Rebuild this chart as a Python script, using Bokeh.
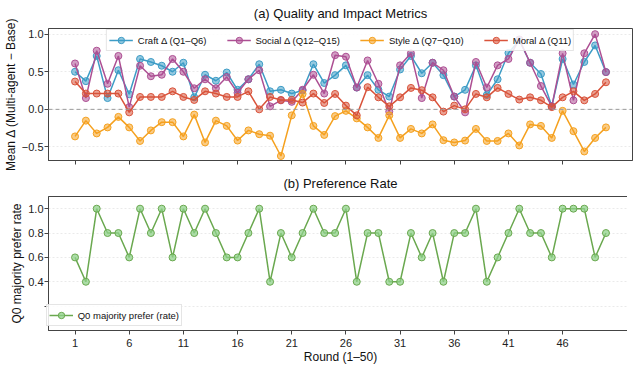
from bokeh.plotting import figure
from bokeh.models import Range1d, FixedTicker, Span, Legend, LegendItem
from bokeh.layouts import column
from bokeh.embed import file_html
from bokeh.resources import INLINE

rounds = list(range(1, 51))

craft = [0.50, 0.375, 0.71, 0.15, 0.52, 0.20, 0.67, 0.63, 0.58, 0.50,
         0.62, 0.16, 0.46, 0.38, 0.49, 0.26, 0.40, 0.60, 0.24, 0.26,
         0.21, 0.25, 0.60, 0.35, 0.455, 0.585, 0.29, 0.455, 0.26, 0.17,
         0.53, 0.71, 0.48, 0.62, 0.455, 0.17, 0.26, 0.585, 0.19, 0.40,
         0.75, 0.92, 0.62, 0.47, 0.04, 0.67, 0.33, 0.63, 0.85, 0.495]
social = [0.61, 0.15, 0.78, 0.34, 0.71, 0.03, 0.58, 0.44, 0.46, 0.67,
          0.50, 0.28, 0.40, 0.28, 0.43, 0.22, 0.40, 0.52, 0.04, 0.12,
          0.10, 0.26, 0.46, 0.21, 0.72, 0.70, 0.29, 0.65, 0.34, -0.03,
          0.585, 0.745, 0.15, 0.62, 0.52, 0.17, -0.04, 0.63, 0.29, 0.585,
          0.67, 0.93, 0.62, 0.31, 0.04, 0.745, 0.12, 0.745, 1.00, 0.495]
style = [-0.36, -0.15, -0.32, -0.24, -0.10, -0.24, -0.42, -0.28, -0.17, -0.17,
         -0.36, -0.07, -0.44, -0.15, -0.22, -0.415, -0.28, -0.33, -0.35, -0.62,
         -0.08, 0.205, -0.22, -0.34, -0.09, -0.02, -0.12, -0.24, -0.38, -0.08,
         -0.38, -0.26, -0.32, -0.20, -0.41, -0.44, -0.415, -0.26, -0.42, -0.42,
         -0.32, -0.48, -0.20, -0.22, -0.38, -0.02, -0.29, -0.56, -0.38, -0.24]
moral = [0.37, 0.21, 0.21, 0.21, 0.21, -0.04, 0.165, 0.165, 0.165, 0.24,
         0.165, 0.125, 0.24, 0.21, 0.165, 0.165, 0.24, 0.0, 0.165, 0.125,
         0.125, 0.09, 0.21, 0.085, 0.205, 0.05, -0.08, 0.295, 0.16, 0.04,
         0.16, 0.285, 0.255, 0.16, -0.03, 0.05, 0.0, 0.205, 0.16, 0.285,
         0.205, 0.13, 0.16, 0.12, 0.03, 0.16, 0.24, 0.12, 0.205, 0.36]
pref = [0.6, 0.4, 1.0, 0.8, 0.8, 0.6, 1.0, 0.8, 1.0, 0.6,
        1.0, 0.8, 1.0, 0.8, 0.6, 0.6, 0.8, 1.0, 0.4, 0.8,
        0.6, 0.8, 1.0, 0.8, 0.8, 1.0, 0.4, 0.8, 0.8, 0.4,
        0.4, 0.8, 0.6, 0.8, 0.4, 0.8, 0.8, 1.0, 0.4, 0.6,
        0.8, 1.0, 0.8, 0.8, 0.6, 1.0, 1.0, 1.0, 0.6, 0.8]

x_ticks = [1, 6, 11, 16, 21, 26, 31, 36, 41, 46]
top_ticks = [-0.5, 0.0, 0.5, 1.0]
top_tick_labels = ["\u22120.5", "0.0", "0.5", "1.0"]
bottom_label_ticks = [0.4, 0.6, 0.8, 1.0]
bottom_tick_labels = ["0.4", "0.6", "0.8", "1.0"]
bottom_grid_ticks = [0.2, 0.4, 0.6, 0.8, 1.0]

series_top = [
    ("Craft \u0394 (Q1\u2013Q6)", craft, "#3d9cc6"),
    ("Social \u0394 (Q12\u2013Q15)", social, "#ad4f93"),
    ("Style \u0394 (Q7\u2212Q10)", style, "#f5a11f"),
    ("Moral \u0394 (Q11)", moral, "#d9533b"),
]

FONT = "Liberation Sans"
FRAME_W = 584
LEFT = 40
AX = "#444444"


def base_style(p, title, standoff):
    p.title.text = title
    p.title.align = "center"
    p.title.vertical_align = "top"
    p.title.text_font = FONT
    p.title.text_font_size = "13px"
    p.title.text_font_style = "normal"
    p.title.text_color = "#111111"
    p.title.standoff = standoff
    p.outline_line_color = AX
    p.outline_line_width = 1
    p.outline_line_alpha = 1.0
    p.xgrid.visible = False
    p.ygrid.grid_line_color = "#e4e4e4"
    p.ygrid.grid_line_dash = "2 2"
    p.ygrid.grid_line_width = 0.8
    for ax in (p.xaxis[0], p.yaxis[0]):
        ax.axis_line_color = AX
        ax.major_tick_line_color = AX
        ax.major_tick_in = 0
        ax.major_tick_out = 4
        ax.minor_tick_line_color = AX
        ax.minor_tick_in = 0
        ax.minor_tick_out = 4
        ax.major_label_text_font = FONT
        ax.major_label_text_font_size = "11px"
        ax.major_label_text_color = "#222222"
        ax.major_label_standoff = 1
        ax.axis_label_text_font = FONT
        ax.axis_label_text_font_size = "12px"
        ax.axis_label_text_font_style = "normal"
        ax.axis_label_text_color = "#111111"
        ax.axis_label_standoff = 1
    p.background_fill_color = "white"
    p.border_fill_color = "white"


def legend_style(leg):
    leg.label_text_font = FONT
    leg.label_text_font_size = "9.5px"
    leg.label_text_color = "#111111"
    leg.glyph_width = 24
    leg.glyph_height = 16
    leg.label_height = 16
    leg.label_standoff = 5
    leg.padding = 2
    leg.border_line_color = "#cccccc"
    leg.border_line_width = 1
    leg.background_fill_alpha = 0.85


# ---------- top panel ----------
p1 = figure(frame_width=FRAME_W, frame_height=132,
            x_range=Range1d(-1.45, 52.45), y_range=Range1d(-0.68, 1.075),
            output_backend="svg", toolbar_location=None,
            min_border_left=LEFT, min_border_right=2,
            min_border_top=26, min_border_bottom=11)
base_style(p1, "(a) Quality and Impact Metrics", 11)
# tick marks only (no labels) on the shared x axis of the upper panel
p1.xaxis.ticker = FixedTicker(ticks=[], minor_ticks=x_ticks)
p1.yaxis.ticker = FixedTicker(ticks=top_ticks, minor_ticks=[])
p1.yaxis.major_label_overrides = dict(zip(top_ticks, top_tick_labels))
p1.yaxis.axis_label = "Mean \u0394 (Multi-agent \u2212 Base)"

p1.add_layout(Span(location=0, dimension="width", line_color="#9a9a9a",
                   line_dash="4 3", line_width=1))

items = []
for label, vals, col in series_top:
    ln = p1.line(rounds, vals, line_color=col, line_width=1.5)
    sc = p1.scatter(rounds, vals, size=7, marker="circle", line_color=col,
                    line_width=1, fill_color=col, fill_alpha=0.55)
    items.append(LegendItem(label=label, renderers=[ln, sc]))

leg1 = Legend(items=items, orientation="horizontal", location="top")
legend_style(leg1)
leg1.spacing = 20
leg1.margin = 1
p1.add_layout(leg1)

# ---------- bottom panel ----------
p2 = figure(frame_width=FRAME_W, frame_height=134,
            x_range=p1.x_range, y_range=Range1d(0.0, 1.1),
            output_backend="svg", toolbar_location=None,
            min_border_left=LEFT, min_border_right=2,
            min_border_top=19, min_border_bottom=0)
base_style(p2, "(b) Preference Rate", 8)
p2.xaxis.ticker = FixedTicker(ticks=x_ticks, minor_ticks=[])
p2.xaxis.major_label_standoff = 4
p2.xaxis.axis_label_standoff = 0
p2.yaxis.ticker = FixedTicker(ticks=bottom_label_ticks, minor_ticks=[0.2])
p2.yaxis.major_label_overrides = dict(zip(bottom_label_ticks, bottom_tick_labels))
p2.ygrid.ticker = FixedTicker(ticks=bottom_grid_ticks)
p2.yaxis.axis_label = "Q0 majority prefer rate"
p2.xaxis.axis_label = "Round (1\u201350)"

g_col = "#6aa84f"
ln2 = p2.line(rounds, pref, line_color=g_col, line_width=1.5)
sc2 = p2.scatter(rounds, pref, size=7, marker="circle", line_color=g_col,
                 line_width=1, fill_color="#8fd18a", fill_alpha=0.75)
leg2 = Legend(items=[LegendItem(label="Q0 majority prefer (rate)", renderers=[ln2, sc2])],
              location="bottom_left")
legend_style(leg2)
leg2.margin = 4
p2.add_layout(leg2)

layout = column(p1, p2, spacing=0)
open("out.html", "w").write(file_html(layout, INLINE))
